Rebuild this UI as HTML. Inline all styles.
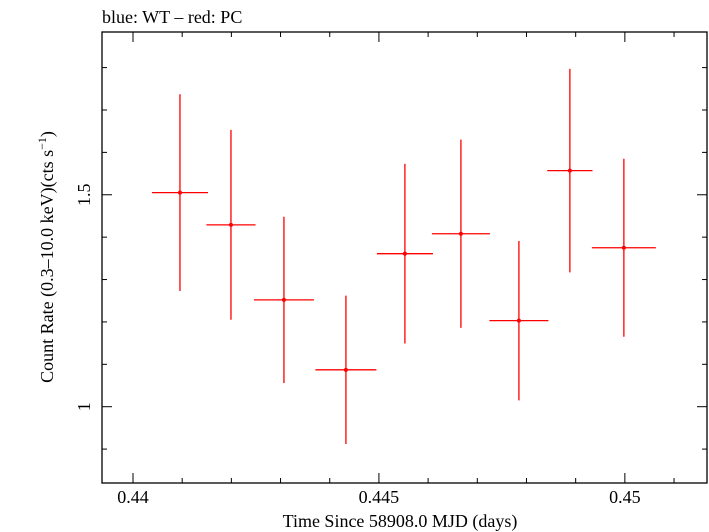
<!DOCTYPE html>
<html><head><meta charset="utf-8"><style>
html,body{margin:0;padding:0;background:#fff;}
svg{display:block;font-family:"Liberation Serif",serif;}
</style></head><body>
<svg id="chart" width="709" height="532" xmlns="http://www.w3.org/2000/svg">
<text x="102" y="23" font-size="18">blue: WT – red: PC</text>
<rect x="102" y="32" width="605" height="451" fill="none" stroke="#000" stroke-width="1.3"/>
<g id="axes"></g>
<g id="series"></g>
<text x="400" y="527" font-size="18" text-anchor="middle">Time Since 58908.0 MJD (days)</text>
<text transform="translate(53,257) rotate(-90)" font-size="18" text-anchor="middle">Count Rate (0.3–10.0 keV)(cts s<tspan dy="-7" font-size="12">−1</tspan><tspan dy="7">)</tspan></text>
</svg>
<script>
const times=[0.440955,0.441992,0.443069,0.444329,0.445528,0.446667,0.447846,0.448882,0.44998];
const timeErr=[0.00057,0.0005,0.00061,0.00062,0.00057,0.00059,0.0006,0.00046,0.00065];
const rates=[1.505,1.429,1.252,1.087,1.361,1.408,1.203,1.557,1.375];
const rateErr=[0.232,0.224,0.196,0.175,0.212,0.222,0.188,0.24,0.21];
const xTicks=[0.44,0.445,0.45];
const xTickLabels=["0.44","0.445","0.45"];
const yTicks=[1,1.5];
const yTickLabels=["1","1.5"];
const L=102,R=707,T=32,B=483;
const xMin=0.43937,xMax=0.45167,yMin=0.82,yMax=1.884;
function sx(v){return L+(v-xMin)/(xMax-xMin)*(R-L);}
function sy(v){return B-(v-yMin)/(yMax-yMin)*(B-T);}
const NS="http://www.w3.org/2000/svg";
function mk(tag,attrs,parent){const e=document.createElementNS(NS,tag);for(const k in attrs)e.setAttribute(k,attrs[k]);parent.appendChild(e);return e;}
const ax=document.getElementById('axes');
for(let i=0;i<=12;i++){
  const v=Math.round((0.439+i*0.001)*1e4)/1e4; if(v<xMin||v>xMax)continue;
  const major=xTicks.some(t=>Math.abs(t-v)<1e-7); const len=major?10:5; const x=sx(v);
  const t1=mk('line',{x1:x,x2:x,y1:B,y2:B-len,stroke:'#000','stroke-width':1},ax);
  
  
  const t2=mk('line',{x1:x,x2:x,y1:T,y2:T+len,stroke:'#000','stroke-width':1},ax);
  
  
}
xTicks.forEach((v,i)=>{
  const t=mk('text',{x:sx(v),y:B+20,'font-size':18,'text-anchor':'middle'},ax);
  t.textContent=xTickLabels[i];
  
  
});
for(let i=0;i<=12;i++){
  const v=Math.round((0.8+i*0.1)*10)/10; if(v<yMin||v>yMax)continue;
  const major=yTicks.some(t=>Math.abs(t-v)<1e-7); const len=major?10:5; const y=sy(v);
  const t1=mk('line',{x1:L,x2:L+len,y1:y,y2:y,stroke:'#000','stroke-width':1},ax);
  
  
  const t2=mk('line',{x1:R,x2:R-len,y1:y,y2:y,stroke:'#000','stroke-width':1},ax);
  
  
}
yTicks.forEach((v,i)=>{
  const t=mk('text',{transform:`translate(${L-12},${sy(v)}) rotate(-90)`,'font-size':18,'text-anchor':'middle'},ax);
  t.textContent=yTickLabels[i];
  
  
});
const sg=document.getElementById('series');
times.forEach((t,i)=>{
  const g=mk('g',{},sg);
  
  
  const x=sx(t),y=sy(rates[i]);
  mk('line',{x1:sx(t-timeErr[i]),x2:sx(t+timeErr[i]),y1:y,y2:y,stroke:'#f00','stroke-width':1.3},g);
  mk('line',{x1:x,x2:x,y1:sy(rates[i]+rateErr[i]),y2:sy(rates[i]-rateErr[i]),stroke:'#f00','stroke-width':1.3},g);
  mk('circle',{cx:x,cy:y,r:2,fill:'#f00'},g);
});
</script>
</body></html>
